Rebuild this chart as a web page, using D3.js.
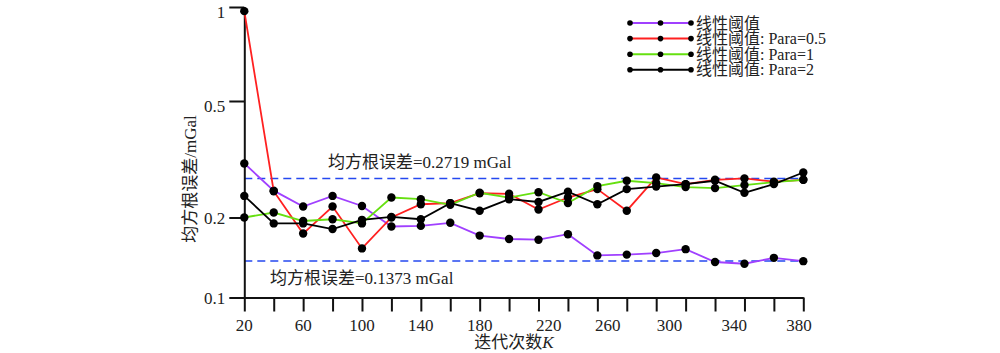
<!DOCTYPE html>
<html>
<head>
<meta charset="utf-8">
<script src="https://cdn.jsdelivr.net/npm/d3@7"></script>
<style>
  body { margin: 0; background: #fff; }
  text { font-family: "Liberation Serif", "Noto Sans CJK SC", serif; fill: #222; }
</style>
</head>
<body>
<div id="chart"></div>
<script>
// iteration labels shown on the x axis, and where they sit (point index)
var xLabels = [20, 60, 100, 140, 180, 220, 260, 300, 340, 380];
var xLabelAt = [0, 2, 4, 6, 8, 10.35, 12.35, 14.45, 16.65, 18.85];
var yTicks = [0.1, 0.2, 0.5, 1];

var seriesNames = ["线性阈值", "线性阈值: Para=0.5", "线性阈值: Para=1", "线性阈值: Para=2"];
var seriesColors = ["#a040ff", "#ff2020", "#66e010", "#000000"];

var linear = [0.306, 0.247, 0.218, 0.237, 0.219, 0.185, 0.186, 0.191, 0.171, 0.166,
              0.165, 0.173, 0.144, 0.145, 0.147, 0.152, 0.136, 0.134, 0.141, 0.137];
var para05 = [0.97, 0.246, 0.174, 0.218, 0.153, 0.200, 0.222, 0.224, 0.242, 0.241,
              0.213, 0.234, 0.250, 0.211, 0.274, 0.260, 0.269, 0.272, 0.265, 0.269];
var para1  = [0.200, 0.208, 0.194, 0.197, 0.190, 0.234, 0.231, 0.221, 0.243, 0.234,
              0.244, 0.224, 0.256, 0.267, 0.262, 0.254, 0.252, 0.258, 0.264, 0.269];
var para2  = [0.237, 0.190, 0.190, 0.181, 0.196, 0.201, 0.197, 0.224, 0.211, 0.231,
              0.226, 0.245, 0.222, 0.250, 0.255, 0.260, 0.267, 0.243, 0.260, 0.285];

var rmsLines = [0.2719, 0.1373];

var width = 1000, height = 353;

var svg = d3.select("#chart").append("svg")
    .attr("width", width)
    .attr("height", height);

var x = d3.scaleLinear().domain([0, linear.length - 1]).range([244.3, 803.3]);
// the y axis is log-like with hand spaced ticks: piecewise in log10
var yLog = d3.scaleLinear().domain(yTicks.map(Math.log10)).range([297.5, 217.5, 101, 7]);
var y = function (v) { return yLog(Math.log10(v)); };

// dashed reference lines
svg.selectAll("line.rms")
    .data(rmsLines)
    .join("line")
    .attr("class", "rms")
    .attr("x1", x(0))
    .attr("x2", x(linear.length - 1))
    .attr("y1", d => y(d))
    .attr("y2", d => y(d))
    .attr("stroke", "#2448f0")
    .attr("stroke-width", 1.5)
    .attr("stroke-dasharray", "8,5");

svg.append("text")
    .attr("x", 328)
    .attr("y", y(rmsLines[0]) - 10)
    .style("font-size", "17px")
    .text("均方根误差=" + rmsLines[0] + " mGal");

svg.append("text")
    .attr("x", 270)
    .attr("y", y(rmsLines[1]) + 23)
    .style("font-size", "17px")
    .text("均方根误差=" + rmsLines[1] + " mGal");

// axes
var xAxis = svg.append("g")
    .attr("transform", "translate(0," + y(0.1) + ")")
    .call(d3.axisBottom(x).tickValues(d3.range(linear.length)).tickFormat("").tickSize(14).tickSizeOuter(0));
xAxis.selectAll("path, line").attr("stroke", "#111").attr("stroke-width", 2);

svg.selectAll("text.xlab")
    .data(xLabels)
    .join("text")
    .attr("class", "xlab")
    .attr("x", (d, i) => x(xLabelAt[i]))
    .attr("y", 331)
    .attr("text-anchor", "middle")
    .style("font-size", "17px")
    .text(d => d);

var yAxis = svg.append("g")
    .attr("transform", "translate(" + x(0) + ",0)")
    .call(d3.axisLeft(yLog).tickValues(yTicks.map(Math.log10))
        .tickFormat(d => String(+Math.pow(10, d).toFixed(1))).tickSize(15).tickSizeOuter(0).tickPadding(4));
yAxis.selectAll("path, line").attr("stroke", "#111").attr("stroke-width", 2);
yAxis.selectAll("text").style("font-size", "17px").attr("fill", "#222")
    .style("font-family", "Liberation Serif")
    .attr("y", d => d >= Math.log10(0.5) ? 5 : 1);

svg.append("text")
    .attr("transform", "translate(196,179) rotate(-90)")
    .attr("text-anchor", "middle")
    .style("font-size", "17px")
    .text("均方根误差/mGal");

var xt = svg.append("text")
    .attr("x", 514)
    .attr("y", 348)
    .attr("text-anchor", "middle")
    .style("font-size", "17px");
xt.append("tspan").text("迭代次数");
xt.append("tspan").style("font-style", "italic").text("K");

// series
var series = [linear, para05, para1, para2];
var line = d3.line().x((d, i) => x(i)).y(d => y(d));

series.forEach(function (s, k) {
    svg.append("path")
        .datum(s)
        .attr("fill", "none")
        .attr("stroke", seriesColors[k])
        .attr("stroke-width", 1.8)
        .attr("d", line);
    svg.append("g").selectAll("circle")
        .data(s)
        .join("circle")
        .attr("cx", (d, i) => x(i))
        .attr("cy", d => y(d))
        .attr("r", 4.2)
        .attr("fill", "#000");
});

// legend
var legend = svg.append("g").attr("transform", "translate(630,23)");
seriesNames.forEach(function (name, k) {
    var g = legend.append("g").attr("transform", "translate(0," + (k * 15.6) + ")");
    g.append("line").attr("x1", 0).attr("x2", 61)
        .attr("stroke", seriesColors[k]).attr("stroke-width", 2);
    g.selectAll("circle").data([0, 30.5, 61]).join("circle")
        .attr("cx", d => d).attr("r", 2.8).attr("fill", "#000");
    g.append("text").attr("x", 66).attr("y", 5.5)
        .style("font-size", "16px")
        .text(name);
});
</script>
</body>
</html>
